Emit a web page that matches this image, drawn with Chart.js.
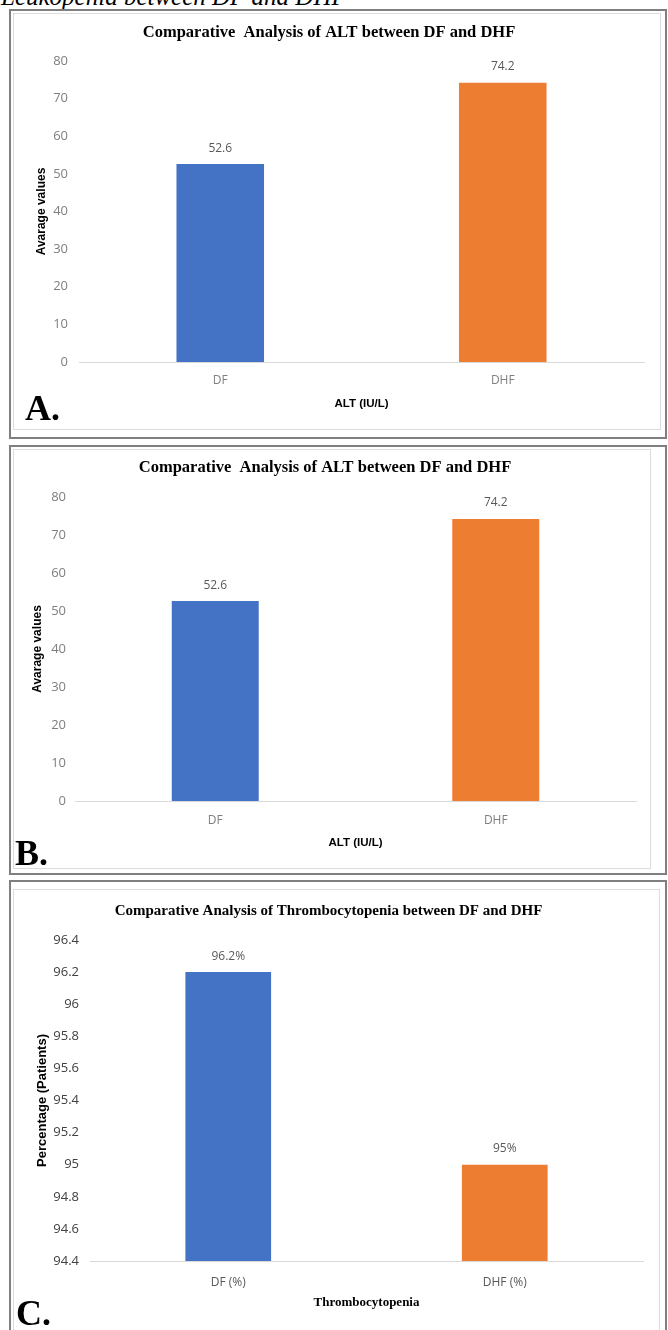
<!DOCTYPE html>
<html>
<head>
<meta charset="utf-8">
<script src="https://cdn.jsdelivr.net/npm/chart.js@4.4.0/dist/chart.umd.min.js"></script>
<style>
  html, body { margin: 0; padding: 0; background: #ffffff; }
  body { width: 668px; height: 1330px; position: relative; overflow: hidden; }
  .caption {
    position: absolute; left: 1px; top: -16px; margin: 0;
    font: italic 25px "Liberation Serif", "Times New Roman", serif;
    line-height: 1; color: #000; white-space: nowrap;
  }
  .frame { position: absolute; box-sizing: border-box; border: 2px solid #7f7f7f; }
  .inner { position: absolute; box-sizing: border-box; border: 1px solid #dcdcdc; }
  canvas { position: absolute; }
  .tag {
    position: absolute; margin: 0;
    font: bold 36px "Liberation Serif", "Times New Roman", serif;
    line-height: 1; color: #000;
  }
</style>
</head>
<body>
<p class="caption">Leukopenia between DF and DHF</p>

<div class="frame" style="left:9px; top:9px; width:658px; height:430px;"></div>
<div class="inner" style="left:13px; top:13px; width:648px; height:417px;"></div>
<canvas id="chartA" width="642" height="410" style="left:14px; top:16px;"></canvas>
<p class="tag" style="left:25px; top:390px;">A.</p>

<div class="frame" style="left:9px; top:445px; width:658px; height:430px;"></div>
<div class="inner" style="left:13px; top:449px; width:638px; height:420px;"></div>
<canvas id="chartB" width="632" height="416" style="left:14px; top:450px;"></canvas>
<p class="tag" style="left:15px; top:835px;">B.</p>

<div class="frame" style="left:9px; top:880px; width:658px; height:470px;"></div>
<div class="inner" style="left:13px; top:889px; width:647px; height:460px;"></div>
<canvas id="chartC" width="644" height="438" style="left:14px; top:892px;"></canvas>
<p class="tag" style="left:16px; top:1295px;">C.</p>

<script>
// ALT comparison (IU/L), shown twice
const altCategories = ['DF', 'DHF'];
const altAverages = [52.6, 74.2];
const altAveragesRepeat = [52.6, 74.2];
const altTickLabels = ['0', '10', '20', '30', '40', '50', '60', '70', '80'];

// Thrombocytopenia share of patients (%)
const thromboCategories = ['DF (%)', 'DHF (%)'];
const thromboPercents = [96.2, 95];
const thromboTickLabels = ['94.4', '94.6', '94.8', '95', '95.2', '95.4', '95.6', '95.8', '96', '96.2', '96.4'];

const groupColors = ['#4472C4', '#ED7D31'];

const SANS = '"Open Sans", "Liberation Sans", sans-serif';
const BOLD_SANS = '"Liberation Sans", Arial, sans-serif';
const SERIF = '"Liberation Serif", "Times New Roman", serif';

// Writes each bar's value just above its top
const valueLabels = {
  id: 'valueLabels',
  afterDatasetsDraw(chart, args, opts) {
    const ctx = chart.ctx;
    const meta = chart.getDatasetMeta(0);
    const values = chart.data.datasets[0].data;
    ctx.save();
    ctx.font = '12px ' + SANS;
    ctx.fillStyle = opts.color || '#595959';
    ctx.textAlign = 'center';
    ctx.textBaseline = 'middle';
    meta.data.forEach((bar, i) => {
      ctx.fillText(String(values[i]) + (opts.suffix || ''), bar.x, bar.y - 16);
    });
    ctx.restore();
  }
};

function buildChart(id, cfg) {
  const yLabels = cfg.tickLabels;
  const titleLine = cfg.titleSize * 1.2;
  return new Chart(document.getElementById(id), {
    type: 'bar',
    data: {
      labels: cfg.categories,
      datasets: [{
        data: cfg.values,
        backgroundColor: groupColors,
        borderWidth: 0,
        categoryPercentage: 1,
        barPercentage: 0.31
      }]
    },
    options: {
      responsive: false,
      animation: false,
      devicePixelRatio: 1,
      layout: { padding: { left: 0, right: cfg.padRight, top: 0, bottom: 0 } },
      plugins: {
        legend: { display: false },
        tooltip: { enabled: false },
        title: {
          display: true,
          text: cfg.title,
          color: '#000',
          font: { family: SERIF, size: cfg.titleSize, weight: 'bold', lineHeight: 1.2 },
          padding: {
            top: cfg.titleCenter - titleLine / 2,
            bottom: cfg.plotTop - cfg.titleCenter - titleLine / 2
          }
        },
        valueLabels: { suffix: cfg.suffix, color: '#595959' }
      },
      scales: {
        x: {
          grid: { display: false, drawTicks: false },
          border: { display: true, color: '#d9d9d9', width: 1 },
          ticks: {
            color: cfg.xTickColor,
            font: { family: SANS, size: 12, lineHeight: 1.2 },
            padding: cfg.xTickPad,
            maxRotation: 0
          },
          title: {
            display: true,
            text: cfg.xTitle,
            color: '#000',
            font: cfg.xTitleFont,
            padding: { top: 0, bottom: cfg.xTitlePadBottom }
          },
          afterFit(scale) { scale.height = cfg.xHeight; }
        },
        y: {
          min: cfg.min,
          max: cfg.max,
          grid: { display: false, drawTicks: false },
          border: { display: false },
          ticks: {
            stepSize: cfg.step,
            color: cfg.yTickColor,
            font: { family: SANS, size: 13, lineHeight: 1.2 },
            padding: cfg.yTickPad,
            callback: (v, i) => yLabels[i]
          },
          title: {
            display: true,
            text: cfg.yTitle,
            color: '#000',
            font: { family: BOLD_SANS, size: cfg.yTitleSize, weight: 'bold', lineHeight: 1.2 },
            padding: { top: cfg.yTitleCenter - cfg.yTitleSize * 0.6, bottom: 0 }
          },
          afterFit(scale) { scale.width = cfg.yWidth; }
        }
      }
    },
    plugins: [valueLabels]
  });
}

const altXTitleFont = { family: BOLD_SANS, size: 11.5, weight: 'bold', lineHeight: 1.2 };

buildChart('chartA', {
  categories: altCategories, values: altAverages, tickLabels: altTickLabels,
  title: 'Comparative  Analysis of ALT between DF and DHF', titleSize: 16.5,
  min: 0, max: 80, step: 10, suffix: '',
  padRight: 12, titleCenter: 17, plotTop: 45,
  yWidth: 65, yTickPad: 11, yTitleSize: 12, yTitleCenter: 28, yTitle: 'Avarage values',
  xHeight: 64, xTickPad: 11.8, xTitlePadBottom: 15.1, xTitle: 'ALT (IU/L)', xTitleFont: altXTitleFont,
  xTickColor: '#7f7f7f', yTickColor: '#7f7f7f'
});

buildChart('chartB', {
  categories: altCategories, values: altAveragesRepeat, tickLabels: altTickLabels,
  title: 'Comparative  Analysis of ALT between DF and DHF', titleSize: 16.5,
  min: 0, max: 80, step: 10, suffix: '',
  padRight: 10, titleCenter: 18, plotTop: 47,
  yWidth: 61, yTickPad: 9, yTitleSize: 12, yTitleCenter: 24, yTitle: 'Avarage values',
  xHeight: 65, xTickPad: 12.8, xTitlePadBottom: 16.1, xTitle: 'ALT (IU/L)', xTitleFont: altXTitleFont,
  xTickColor: '#7f7f7f', yTickColor: '#7f7f7f'
});

buildChart('chartC', {
  categories: thromboCategories, values: thromboPercents, tickLabels: thromboTickLabels,
  title: 'Comparative Analysis of Thrombocytopenia between DF and DHF', titleSize: 15,
  min: 94.4, max: 96.4, step: 0.2, suffix: '%',
  padRight: 15, titleCenter: 19, plotTop: 48,
  yWidth: 76, yTickPad: 11, yTitleSize: 13, yTitleCenter: 28, yTitle: 'Percentage (Patients)',
  xHeight: 69, xTickPad: 14.8, xTitlePadBottom: 19.2, xTitle: 'Thrombocytopenia',
  xTitleFont: { family: SERIF, size: 13, weight: 'bold', lineHeight: 1.2 },
  xTickColor: '#595959', yTickColor: '#404040'
});
</script>
</body>
</html>
